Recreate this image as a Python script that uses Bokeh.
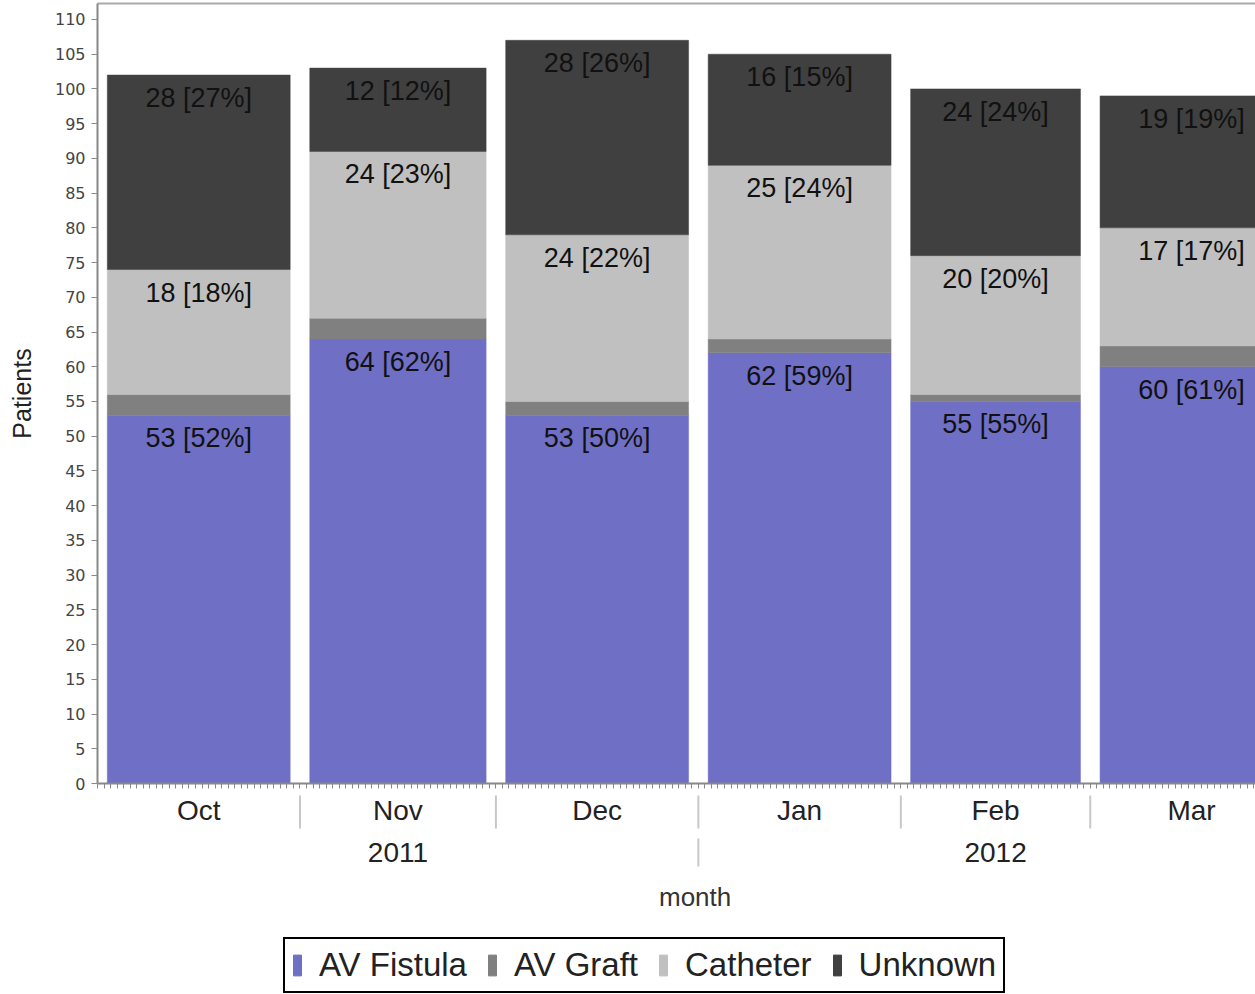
import numpy as np
import pandas as pd
from bokeh.plotting import figure
from bokeh.models import (ColumnDataSource, FixedTicker, LinearAxis, Range1d,
                          Legend, LegendItem)
from bokeh.layouts import column
from bokeh.embed import file_html
from bokeh.resources import INLINE
from bokeh.core.properties import value

# ---------------- data ----------------
months = ["Oct", "Nov", "Dec", "Jan", "Feb", "Mar"]
years = ["2011", "2011", "2011", "2012", "2012", "2012"]
month_starts = ["2011-10-01", "2011-11-01", "2011-12-01",
                "2012-01-01", "2012-02-01", "2012-03-01"]
series = ["AV Fistula", "AV Graft", "Catheter", "Unknown"]
av_fistula = [53, 64, 53, 62, 55, 60]
av_graft = [3, 3, 2, 2, 1, 3]
catheter = [18, 24, 24, 25, 20, 17]
unknown = [28, 12, 28, 16, 24, 19]
y_ticks = list(range(0, 111, 5))

# ---------------- style / layout ----------------
colors = ["#6f6fc6", "#808080", "#c0c0c0", "#404040"]
FONT = "Liberation Sans"
TICK_FONT = "DejaVu Sans"
W = 1255
LEFT = 97
TOP = 3
FRAME_H = 780
BOTTOM = 10
P1_H = TOP + FRAME_H + BOTTOM
P2_H = 994 - P1_H
VIEW_DAYS = 177.3      # visible part of the (cropped) time axis
BAR_GAP_DAYS = 1.5
DAY = 86400000.0
Y_END = 112.3

starts = pd.to_datetime(month_starts)
ends = starts + pd.offsets.MonthBegin(1)
s_ms = starts.astype("int64").to_numpy() / 1e6
e_ms = ends.astype("int64").to_numpy() / 1e6
centers = (s_ms + e_ms) / 2
widths = (e_ms - s_ms) - 2 * BAR_GAP_DAYS * DAY

src = ColumnDataSource(dict(x=centers, w=widths, months=months,
                            f=av_fistula, g=av_graft, c=catheter, u=unknown))

x_range = Range1d(s_ms[0], s_ms[0] + VIEW_DAYS * DAY)

p1 = figure(width=W, height=P1_H, x_range=x_range, y_range=Range1d(0, Y_END),
            toolbar_location=None, output_backend="svg",
            min_border_left=LEFT, min_border_right=0, min_border_top=TOP,
            min_border_bottom=BOTTOM, outline_line_color=None,
            background_fill_color="white", border_fill_color="white")
p1.grid.visible = False

p1.vbar_stack(["f", "g", "c", "u"], x="x", width="w", source=src,
              color=colors, line_width=0.5)

# labels (all but AV Graft)
totals = [a + b + c + d for a, b, c, d in zip(av_fistula, av_graft, catheter, unknown)]
lx, ly, lt = [], [], []
for i in range(len(months)):
    tops = [av_fistula[i],
            av_fistula[i] + av_graft[i] + catheter[i],
            totals[i]]
    vals = [av_fistula[i], catheter[i], unknown[i]]
    for top, v in zip(tops, vals):
        lx.append(centers[i])
        ly.append(top)
        lt.append(f"{v} [{round(100 * v / totals[i])}%]")
lab_src = ColumnDataSource(dict(x=lx, y=ly, t=lt))
p1.text(x="x", y="y", text="t", source=lab_src, text_align="center",
        text_baseline="top", y_offset=8, text_font=value(FONT),
        text_font_size="27px", text_color="#111111")

# x axis: line + daily minor ticks, no labels
days = np.arange(s_ms[0], e_ms[-1] + 1, DAY)
xa = p1.xaxis[0]
xa.ticker = FixedTicker(ticks=[], minor_ticks=list(days))
xa.major_tick_out = 5
xa.major_tick_in = 0
xa.minor_tick_out = 5
xa.minor_tick_in = 0
xa.axis_line_color = "#888888"
xa.axis_line_width = 2
xa.minor_tick_line_color = "#888888"
xa.major_label_standoff = 0

# y axis
ya = p1.yaxis[0]
ya.ticker = FixedTicker(ticks=y_ticks)
ya.major_tick_out = 6
ya.major_tick_in = 0
ya.minor_tick_line_color = None
ya.axis_line_color = "#888888"
ya.axis_line_width = 2
ya.major_tick_line_color = "#888888"
ya.major_label_text_font = TICK_FONT
ya.major_label_text_font_size = "16px"
ya.major_label_text_color = "#444444"
ya.major_label_standoff = 6
ya.axis_label = "Patients"
ya.axis_label_text_font = FONT
ya.axis_label_text_font_size = "25px"
ya.axis_label_text_font_style = "normal"
ya.axis_label_text_color = "#222222"
ya.axis_label_standoff = 16

# top frame line
top_axis = LinearAxis(ticker=FixedTicker(ticks=[]), axis_line_color="#aaaaaa",
                      axis_line_width=2, major_tick_out=0, major_tick_in=0,
                      minor_tick_out=0, minor_tick_in=0, major_label_standoff=0)
p1.add_layout(top_axis, "above")

# ---------------- lower panel: month / year labels, legend ----------------
p2 = figure(width=W, height=P2_H, x_range=x_range, y_range=Range1d(P2_H, 0),
            x_axis_location=None, y_axis_location=None,
            toolbar_location=None, output_backend="svg",
            min_border_left=LEFT, min_border_right=0, min_border_top=0,
            min_border_bottom=0, outline_line_color=None,
            background_fill_color="white", border_fill_color="white")
p2.grid.visible = False

p2.text(x=list(centers), y=[17] * len(months), text=months, text_align="center",
        text_baseline="middle", text_font=value(FONT), text_font_size="28px",
        text_color="#222222")
p2.segment(x0=list(s_ms[1:]), y0=[2] * (len(months) - 1),
           x1=list(s_ms[1:]), y1=[35] * (len(months) - 1),
           line_color="#c8c8c8", line_width=2)

# year groups
year_names, year_lo, year_hi = [], [], []
for i, y in enumerate(years):
    if not year_names or year_names[-1] != y:
        year_names.append(y)
        year_lo.append(s_ms[i])
        year_hi.append(e_ms[i])
    else:
        year_hi[-1] = e_ms[i]
year_c = [(a + b) / 2 for a, b in zip(year_lo, year_hi)]
p2.text(x=year_c, y=[59] * len(year_c), text=year_names, text_align="center",
        text_baseline="middle", text_font=value(FONT), text_font_size="28px",
        text_color="#222222")
p2.segment(x0=year_lo[1:], y0=[45] * (len(year_lo) - 1),
           x1=year_lo[1:], y1=[73] * (len(year_lo) - 1),
           line_color="#c8c8c8", line_width=2)

p2.text(x=[(s_ms[0] + e_ms[-1]) / 2], y=[103], text=["month"],
        text_align="center", text_baseline="middle", text_font=value(FONT),
        text_font_size="26px", text_color="#333333")

# legend proxies (placed outside the visible x range)
items = []
for name, col in zip(series, colors):
    r = p2.vbar(x="x", top="top", width=1, color=col,
                source=ColumnDataSource(dict(x=[e_ms[-1] + 30 * DAY], top=[0])))
    items.append(LegendItem(label=name, renderers=[r]))
legend = Legend(items=items, orientation="horizontal", location=(186, 1),
                border_line_color="black", border_line_width=2,
                border_line_alpha=1.0,
                label_text_font=FONT, label_text_font_size="33px",
                label_text_color="#222222", glyph_width=10, glyph_height=26,
                label_standoff=17, spacing=20, padding=7, margin=0,
                background_fill_color="white", background_fill_alpha=1.0)
p2.add_layout(legend, "center")

layout = column(p1, p2, spacing=0)
open("out.html", "w").write(file_html(layout, INLINE))
